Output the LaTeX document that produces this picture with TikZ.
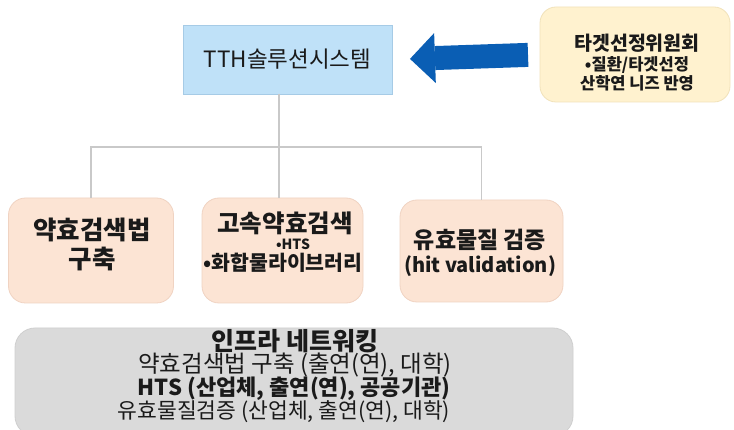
\documentclass[tikz,border=0pt]{standalone}
\usepackage{fontspec}
\setmainfont{Noto Sans CJK KR}
\usetikzlibrary{arrows.meta}

\definecolor{ink}{HTML}{1A1A1A}
\definecolor{tthfill}{HTML}{BFE1F8}
\definecolor{tthedge}{HTML}{A6CBE6}
\definecolor{arrowblue}{HTML}{0A5EB4}
\definecolor{goldfill}{HTML}{FFF2CF}
\definecolor{goldedge}{HTML}{F1E2BA}
\definecolor{peachfill}{HTML}{FCE4D4}
\definecolor{peachedge}{HTML}{F0D3C2}
\definecolor{grayfill}{HTML}{DADADA}
\definecolor{grayedge}{HTML}{CFCFCF}
\definecolor{linegray}{HTML}{C9C9C9}

\newcommand{\fs}[1]{\fontsize{#1}{#1}\selectfont}

\tikzset{
  txt/.style={inner sep=0pt, outer sep=0pt, text=ink},
  conn/.style={draw=linegray, line width=1.3pt},
  tthbox/.style={draw=tthedge, fill=tthfill, line width=0.8pt, outer sep=0pt,
    minimum width=209pt, minimum height=69pt, text=ink, font=\fs{22.5}},
  goldbox/.style={draw=goldedge, fill=goldfill, line width=0.8pt, outer sep=0pt,
    rounded corners=16pt, minimum width=190pt, minimum height=95pt},
  peachbox/.style={draw=peachedge, fill=peachfill, line width=0.8pt, outer sep=0pt,
    rounded corners=17pt, minimum height=105pt},
  graybox/.style={draw=grayedge, fill=grayfill, line width=0.8pt, outer sep=0pt,
    rounded corners=20pt, minimum width=558pt, minimum height=108pt},
  bigarrow/.style={draw=arrowblue, line width=24pt,
    -{Triangle[length=25pt,width=50pt,line width=0pt]},
    shorten <=12pt, shorten >=18pt},
}

\begin{document}
\begin{tikzpicture}[x=1pt,y=-1pt]
\useasboundingbox (0,0) rectangle (734,430);
\fill[white] (0,0) rectangle (734,430);

% top row: solution system and target selection committee
\node[tthbox] (tth) at (287.5,59.5) {TTH솔루션시스템};
\node[goldbox] (tgt) at (635,54.5) {};
\node[txt, font=\bfseries\fs{19.5}] (tgtA) at (637,43) {타겟선정위원회};
\node[txt, font=\bfseries\fs{16.5}] (tgtB) at (637,65) {•질환/타겟선정};
\node[txt, font=\bfseries\fs{16.5}] (tgtC) at (637,83) {산학연 니즈 반영};
\draw[bigarrow] (tgt.west) -- (tth.east);

% middle row: three work packages
\node[peachbox, minimum width=165pt] (b1) at (91,250.5) {};
\node[peachbox, minimum width=161pt] (b2) at (282.5,250.5) {};
\node[peachbox, minimum width=163pt, minimum height=102pt] (b3) at (481.5,251) {};

\node[txt, font=\bfseries\fs{25.5}] (b1A) at (92,230) {약효검색법};
\node[txt, font=\bfseries\fs{25.5}] (b1B) at (92,259) {구축};

\node[txt, font=\bfseries\fs{24.5}] (b2A) at (285,223) {고속약효검색};
\node[txt, font=\bfseries\fs{14}] (b2B) at (293,244) {•HTS};
\node[txt, font=\bfseries\fs{20.5}] (b2C) at (283,263) {•화합물라이브러리};

\node[txt, font=\bfseries\fs{23}] (b3A) at (480,240) {유효물질 검증};
\node[txt, font=\bfseries\fs{20}] (b3B) at (480,266) {(hit validation)};

% tree connectors
\coordinate (hub) at (279,147);
\draw[conn] (tth.south -| hub) -- (hub);
\draw[conn] (b1.north) -- (b1.north |- hub) -- (b3.north |- hub) -- (b3.north);
\draw[conn] (hub) -- (b2.north -| hub);

% bottom: infrastructure network
\node[graybox] (net) at (294,382) {};
\node[txt, font=\bfseries\fs{25}] (netA) at (295,341) {인프라 네트워킹};
\node[txt, font=\fs{23.5}] (netB) at (295,365) {약효검색법 구축 (출연(연), 대학)};
\node[txt, font=\bfseries\fs{22}] (netC) at (294,389) {HTS (산업체, 출연(연), 공공기관)};
\node[txt, font=\fs{21.5}] (netD) at (284,412) {유효물질검증 (산업체, 출연(연), 대학)};
\end{tikzpicture}
\end{document}
